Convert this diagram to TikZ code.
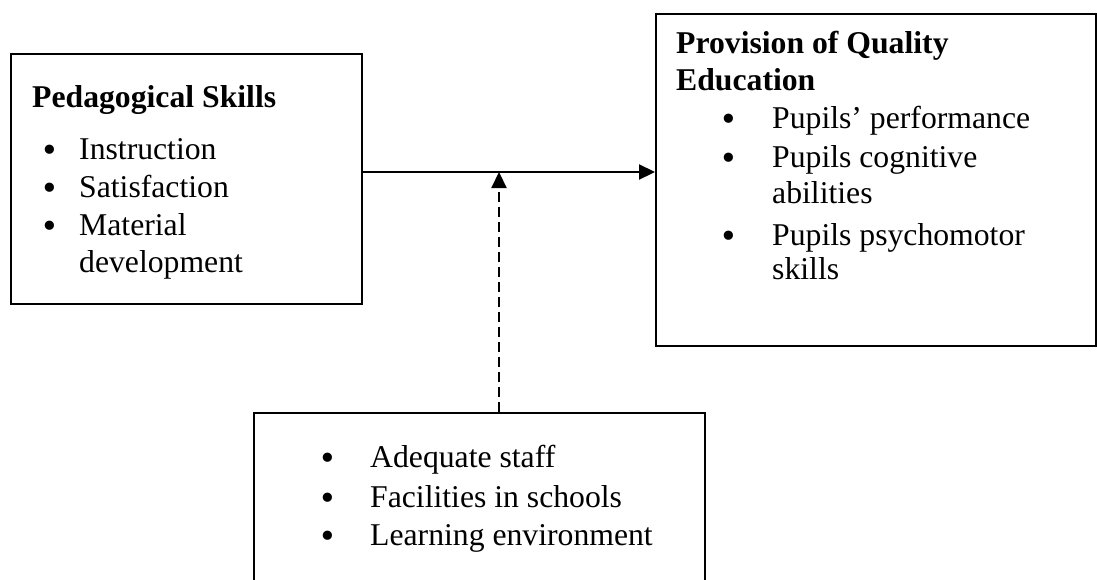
\documentclass[tikz,border=0pt]{standalone}
\usepackage{fontspec}
\setmainfont{Liberation Serif}
\newfontfamily\bulfont{DejaVu Sans}
\usetikzlibrary{arrows.meta}
\newcommand{\bigbul}{\raisebox{-2pt}{\bulfont •}}
\begin{document}
\begin{tikzpicture}[x=1pt,y=-1pt,
  box/.style={draw, line width=2.2pt, inner sep=0pt, anchor=north west},
  txt/.style={anchor=base west, inner sep=0pt, font=\fontsize{31.7}{38}\selectfont},
  hd/.style={anchor=base west, inner sep=0pt, font=\fontsize{31.7}{38}\selectfont\bfseries},
  bul/.style={anchor=base, inner sep=0pt, font=\fontsize{31.7}{38}\selectfont},
  tip/.style={line width=2.2pt, -{Triangle[length=16pt,width=15pt]}}]
\useasboundingbox (0,0) rectangle (1097,579);
% boxes
\node[box, minimum width=351pt, minimum height=250pt] (ped) at (10,53) {};
\node[box, minimum width=440pt, minimum height=332pt] (pqe) at (655,13) {};
\node[box, minimum width=451pt, minimum height=220pt] (ctx) at (253,412) {};
% left box text
\node[hd] (pedh) at (32,107) {Pedagogical Skills};
\node[bul] (pb1) at (50,159) {\bigbul};
\node[txt] (pt1) at (79,159) {Instruction};
\node[bul] (pb2) at (50,197) {\bigbul};
\node[txt] (pt2) at (79,197) {Satisfaction};
\node[bul] (pb3) at (50,235) {\bigbul};
\node[txt] (pt3) at (79,235) {Material};
\node[txt] (pt4) at (79,272) {development};
% right box text
\node[hd] (pqh1) at (676,53) {Provision of Quality};
\node[hd] (pqh2) at (676,90) {Education};
\node[bul] (qb1) at (729,128) {\bigbul};
\node[txt] (qt1) at (772,128) {Pupils’ performance};
\node[bul] (qb2) at (729,167) {\bigbul};
\node[txt] (qt2) at (772,167) {Pupils cognitive};
\node[txt] (qt3) at (772,203) {abilities};
\node[bul] (qb3) at (729,245) {\bigbul};
\node[txt] (qt4) at (772,245) {Pupils psychomotor};
\node[txt] (qt5) at (772,279) {skills};
% bottom box text
\node[bul] (cb1) at (328,467) {\bigbul};
\node[txt] (ct1) at (370,467) {Adequate staff};
\node[bul] (cb2) at (328,507) {\bigbul};
\node[txt] (ct2) at (370,507) {Facilities in schools};
\node[bul] (cb3) at (328,545) {\bigbul};
\node[txt] (ct3) at (370,545) {Learning environment};
% connectors
\coordinate (j) at (499,172);
\draw[tip] (ped.east |- j) -- (pqe.west |- j);
\draw[tip, dash pattern=on 10pt off 5pt] (ctx.north -| j) -- (j);
\end{tikzpicture}
\end{document}
